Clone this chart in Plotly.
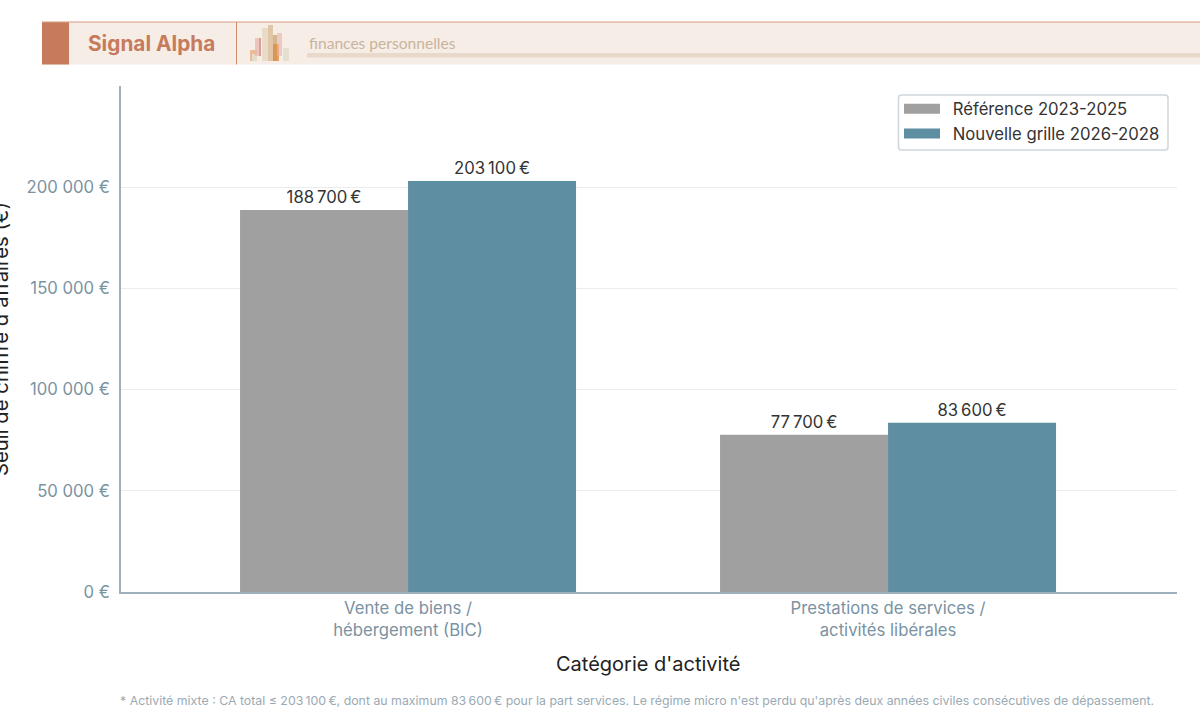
import plotly.graph_objects as go

# Chart data
categories = ["Vente de biens /<br>hébergement (BIC)", "Prestations de services /<br>activités libérales"]
reference_name = "Référence 2023-2025"
new_grid_name = "Nouvelle grille 2026-2028"
reference_values = [188700, 77700]
new_grid_values = [203100, 83600]
reference_labels = ["188\u202f700\u202f€", "77\u202f700\u202f€"]
new_grid_labels = ["203\u202f100\u202f€", "83\u202f600\u202f€"]
tick_values = [0, 50000, 100000, 150000, 200000]
tick_labels = ["0 €", "50 000 €", "100 000 €", "150 000 €", "200 000 €"]

W, H = 1200, 721
LEFT, RIGHT, TOP, BOTTOM = 121, 1177, 86, 592
FONT = "Inter"
GREY, BLUE = "#A0A0A0", "#5E8EA1"
AXIS_LINE = "#9DB0BC"


def px(x):
    return (x - LEFT) / (RIGHT - LEFT)


def py(y):
    return (BOTTOM - y) / (BOTTOM - TOP)


def rect(x0, y0, x1, y1, color, opacity=1.0):
    return dict(type="rect", xref="paper", yref="paper", x0=px(x0), x1=px(x1), y0=py(y0), y1=py(y1),
                fillcolor=color, opacity=opacity, line=dict(width=0), layer="above")


def hline(x0, x1, y, color, width=1):
    return dict(type="line", xref="paper", yref="paper", x0=px(x0), x1=px(x1), y0=py(y), y1=py(y),
                line=dict(color=color, width=width), layer="above")


def vline(x, y0, y1, color, width=1):
    return dict(type="line", xref="paper", yref="paper", x0=px(x), x1=px(x), y0=py(y0), y1=py(y1),
                line=dict(color=color, width=width), layer="above")


def rounded_frame(x0, y0, x1, y1, r, color, width):
    X0, X1, Y0, Y1 = px(x0), px(x1), py(y0), py(y1)
    rx, ry = r / (RIGHT - LEFT), r / (BOTTOM - TOP)
    path = (f"M {X0 + rx} {Y0} L {X1 - rx} {Y0} Q {X1} {Y0} {X1} {Y0 - ry} "
            f"L {X1} {Y1 + ry} Q {X1} {Y1} {X1 - rx} {Y1} "
            f"L {X0 + rx} {Y1} Q {X0} {Y1} {X0} {Y1 + ry} "
            f"L {X0} {Y0 - ry} Q {X0} {Y0} {X0 + rx} {Y0} Z")
    return dict(type="path", xref="paper", yref="paper", path=path, fillcolor="white",
                line=dict(color=color, width=width), layer="above")


# Banner: band, accent block, separators, subtitle rule
banner = [
    rect(42, 22, 1200, 64.5, "#F7EDE7"),
    rect(42, 22, 69, 64.5, "#C67C5C"),
    hline(42, 1200, 22, "#D59A80", 1),
    vline(236.5, 22, 64.5, "#D08F72", 1),
    rect(307, 53, 1200, 57.5, "#E8D9CB"),
]
# Small skyline logo in the banner
logo_blocks = [
    (250, 50, 257, 61, "#E8A77F", 0.75),
    (252, 54, 257, 61, "#E4DCCB", 0.95),
    (255, 38, 261, 56, "#E8B3AE", 0.7),
    (259, 38, 261, 56, "#C9827A", 0.55),
    (262, 28, 268, 61, "#E8DCC8", 1.0),
    (268, 25, 273, 61, "#D9BE9A", 0.85),
    (273, 35, 277, 61, "#C9A678", 0.8),
    (273, 44, 279, 61, "#DE8E45", 0.8),
    (277, 33, 282, 56, "#E8B3AE", 0.6),
    (283, 48, 289, 61, "#E5DFCF", 1.0),
]
logo = [rect(x0, y0, x1, y1, c, o) for x0, y0, x1, y1, c, o in logo_blocks]
legend_frame = rounded_frame(898.5, 95, 1168, 150, 3, "#CFD6DB", 1.5)

fig = go.Figure()
fig.add_bar(name=reference_name, x=categories, y=reference_values, showlegend=False,
            marker=dict(color=GREY, line=dict(width=0)),
            text=reference_labels, textposition="outside", cliponaxis=False,
            textfont=dict(family=FONT, size=16.7, color="#333333"))
fig.add_bar(name=new_grid_name, x=categories, y=new_grid_values, showlegend=False,
            marker=dict(color=BLUE, line=dict(width=0)),
            text=new_grid_labels, textposition="outside", cliponaxis=False,
            textfont=dict(family=FONT, size=16.7, color="#333333"))
# Legend entries with wide swatches; the leading spaces widen the swatch-to-text gap
for name, color in ((reference_name, GREY), (new_grid_name, BLUE)):
    fig.add_scatter(name="\u00a0\u2009" + name, x=categories[:1], y=[None], mode="lines",
                    line=dict(color=color, width=12), hoverinfo="skip")

fig.update_layout(
    width=W, height=H,
    autosize=False,
    margin=dict(l=LEFT, r=W - RIGHT, t=TOP, b=H - BOTTOM, pad=0),
    paper_bgcolor="white", plot_bgcolor="white",
    font=dict(family=FONT, size=16.7, color="#333333"),
    barmode="group", bargap=0.3, bargroupgap=0,
    showlegend=True,
    legend=dict(x=px(899), xanchor="left", y=py(91.5), yanchor="top",
                bgcolor="rgba(0,0,0,0)", borderwidth=0,
                font=dict(family=FONT, size=16.7, color="#333333"),
                itemwidth=36, tracegroupgap=0),
    shapes=banner + logo + [legend_frame],
    annotations=[
        dict(text="<b>Signal Alpha</b>", xref="paper", yref="paper", x=px(86), y=py(43.5),
             xanchor="left", yanchor="middle", showarrow=False,
             font=dict(family=FONT, size=20.8, color="#C67C5C")),
        dict(text="finances personnelles", xref="paper", yref="paper", x=px(307), y=py(43),
             xanchor="left", yanchor="middle", showarrow=False,
             font=dict(family="Lato", size=15.6, color="#C9B49B")),
        dict(text="* Activité mixte : CA total ≤ 203\u202f100\u202f€, dont au maximum 83\u202f600\u202f€ pour la part services. "
                  "Le régime micro n'est perdu qu'après deux années civiles consécutives de dépassement.",
             xref="paper", yref="paper", x=px(118), y=py(700), xanchor="left", yanchor="middle",
             showarrow=False, font=dict(family=FONT, size=12.35, color="#9AAAB4")),
        dict(text="Catégorie d'activité", xref="paper", yref="paper", x=px(648), y=py(664),
             xanchor="center", yanchor="middle", showarrow=False,
             font=dict(family=FONT, size=20, color="#222222")),
        dict(text="Seuil de chiffre d'affaires (€)", xref="paper", yref="paper", x=px(0), y=py(339),
             xanchor="center", yanchor="middle", showarrow=False, textangle=-90,
             font=dict(family=FONT, size=20.3, color="#222222")),
    ],
)
fig.update_xaxes(
    range=[-0.598, 1.602], showgrid=False, zeroline=False, showline=True,
    linecolor=AXIS_LINE, linewidth=1.5, ticks="",
    tickfont=dict(family=FONT, size=16.7, color="#7A92A2"),
    automargin=False,
)
fig.update_yaxes(
    range=[0, 250000], tickvals=tick_values, ticktext=tick_labels,
    showgrid=True, gridcolor="#E9EDF0", gridwidth=1, zeroline=False, showline=True,
    linecolor=AXIS_LINE, linewidth=1.5, ticks="", ticklabelstandoff=6,
    tickfont=dict(family=FONT, size=16.7, color="#7A92A2"),
    automargin=False,
)

fig.write_html("out.html", config=dict(displayModeBar=False))
